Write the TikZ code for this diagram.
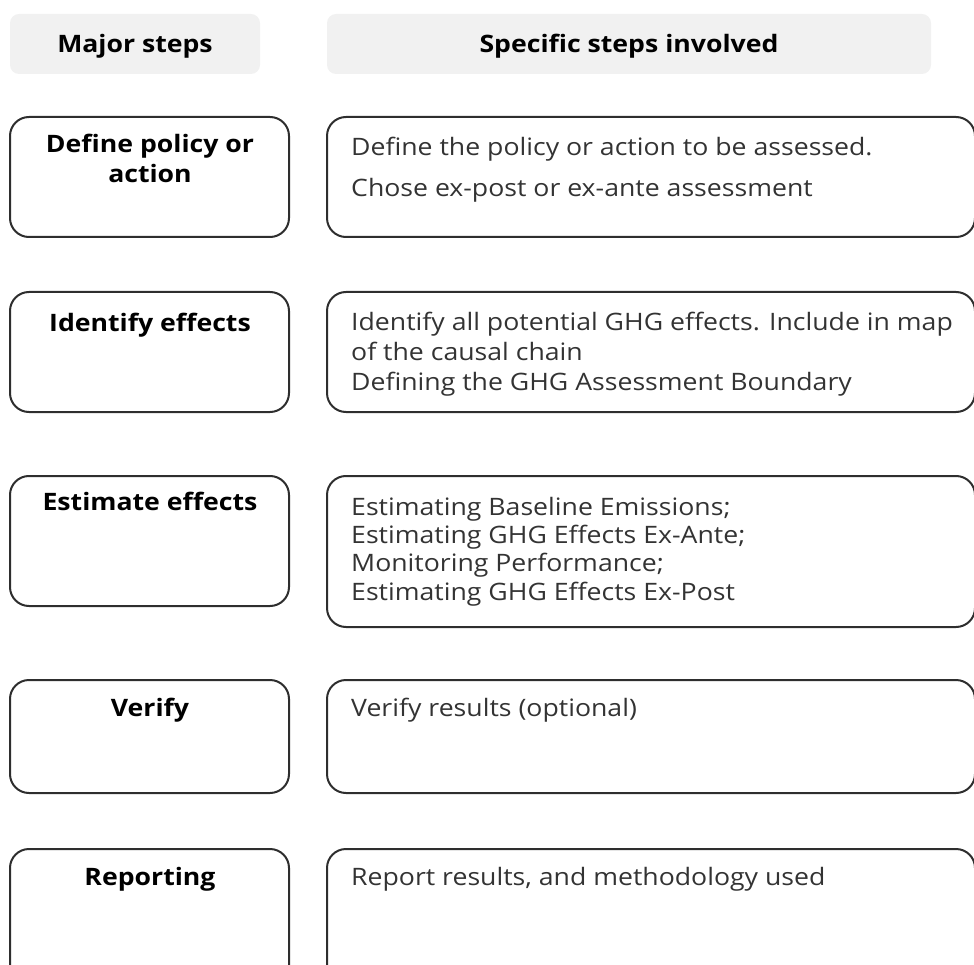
\documentclass[tikz,border=0pt]{standalone}
\usepackage{fontspec}
\setmainfont{Open Sans}[FakeStretch=1.11]
\usetikzlibrary{positioning}
\definecolor{headgray}{HTML}{F1F1F1}
\definecolor{linegray}{HTML}{2E2E2E}
\definecolor{textgray}{HTML}{333333}
\tikzset{
  headbox/.style={fill=headgray,rounded corners=9pt},
  stepbox/.style={draw=linegray,line width=2pt,rounded corners=19pt},
  headtext/.style={font=\fontsize{24}{29}\selectfont\bfseries,text=black,anchor=base,inner sep=0pt},
  majortext/.style={font=\fontsize{24}{29.5}\selectfont\bfseries,text=black,align=center,inner sep=0pt,anchor=base},
  detailtext/.style={font=\fontsize{24}{30}\selectfont,text=textgray,align=left,inner sep=0pt,anchor=base west}
}

\begin{document}
\begin{tikzpicture}[x=1pt,y=-1pt]

    % Define the column boundaries
    \def\xa{10}    % left edge of the major steps column
    \def\xb{289}   % right edge of the major steps column
    \def\xc{327}   % left edge of the detail column
    \def\xd{975}   % right edge of the detail column (runs off the page)
    \def\xm{150}   % centre of the major steps column
    \def\xt{351}   % left margin of the detail texts

    \useasboundingbox (0,0) rectangle (974,965);
    \clip (0,0) rectangle (974,965);

    % -- Header row --
    \fill[headbox] (\xa,14) rectangle (260,74);
    \fill[headbox] (\xc,14) rectangle (931,74);
    \node[headtext] (headmajor) at (135,53) {Major steps};
    \node[headtext] (headspecific) at (629,53) {Specific steps involved};

    % -- Boxes, one row per step --
    \draw[stepbox] (\xa,117) rectangle (\xb,237);   % Define
    \draw[stepbox] (\xc,117) rectangle (\xd,237);
    \draw[stepbox] (\xa,292) rectangle (\xb,412);   % Identify
    \draw[stepbox] (\xc,292) rectangle (\xd,412);
    \draw[stepbox] (\xa,476) rectangle (\xb,606);   % Estimate
    \draw[stepbox] (\xc,476) rectangle (\xd,627);
    \draw[stepbox] (\xa,680) rectangle (\xb,793);   % Verify
    \draw[stepbox] (\xc,680) rectangle (\xd,793);
    \draw[stepbox] (\xa,849) rectangle (\xb,990);   % Reporting
    \draw[stepbox] (\xc,849) rectangle (\xd,990);

    % -- Major step labels (base = last line) --
    \node[majortext] (define) at (\xm,182.5) {Define policy or\\action};
    \node[majortext] (identify) at (\xm,331) {Identify effects};
    \node[majortext] (estimate) at (\xm,510) {Estimate effects};
    \node[majortext] (verify) at (\xm,716) {Verify};
    \node[majortext] (reporting) at (\xm,885) {Reporting};

    % -- Specific steps in each row --
    \node[detailtext] (definetxt) at (\xt,155.5) {Define the policy or action to be assessed.};
    \node[detailtext] (choosetxt) at (\xt,196.5) {Chose ex-post or ex-ante assessment};
    \node[detailtext] (identifytxt) at (\xt,390) {Identify all potential GHG effects. Include in map\\of the causal chain\\Defining the GHG Assessment Boundary};
    \node[detailtext,font=\fontsize{24}{28.3}\selectfont] (estimatetxt) at (\xt,600) {Estimating Baseline Emissions;\\Estimating GHG Effects Ex-Ante;\\Monitoring Performance;\\Estimating GHG Effects Ex-Post};
    \node[detailtext] (verifytxt) at (\xt,716) {Verify results (optional)};
    \node[detailtext] (reporttxt) at (\xt,885) {Report results, and methodology used};

\end{tikzpicture}
\end{document}
